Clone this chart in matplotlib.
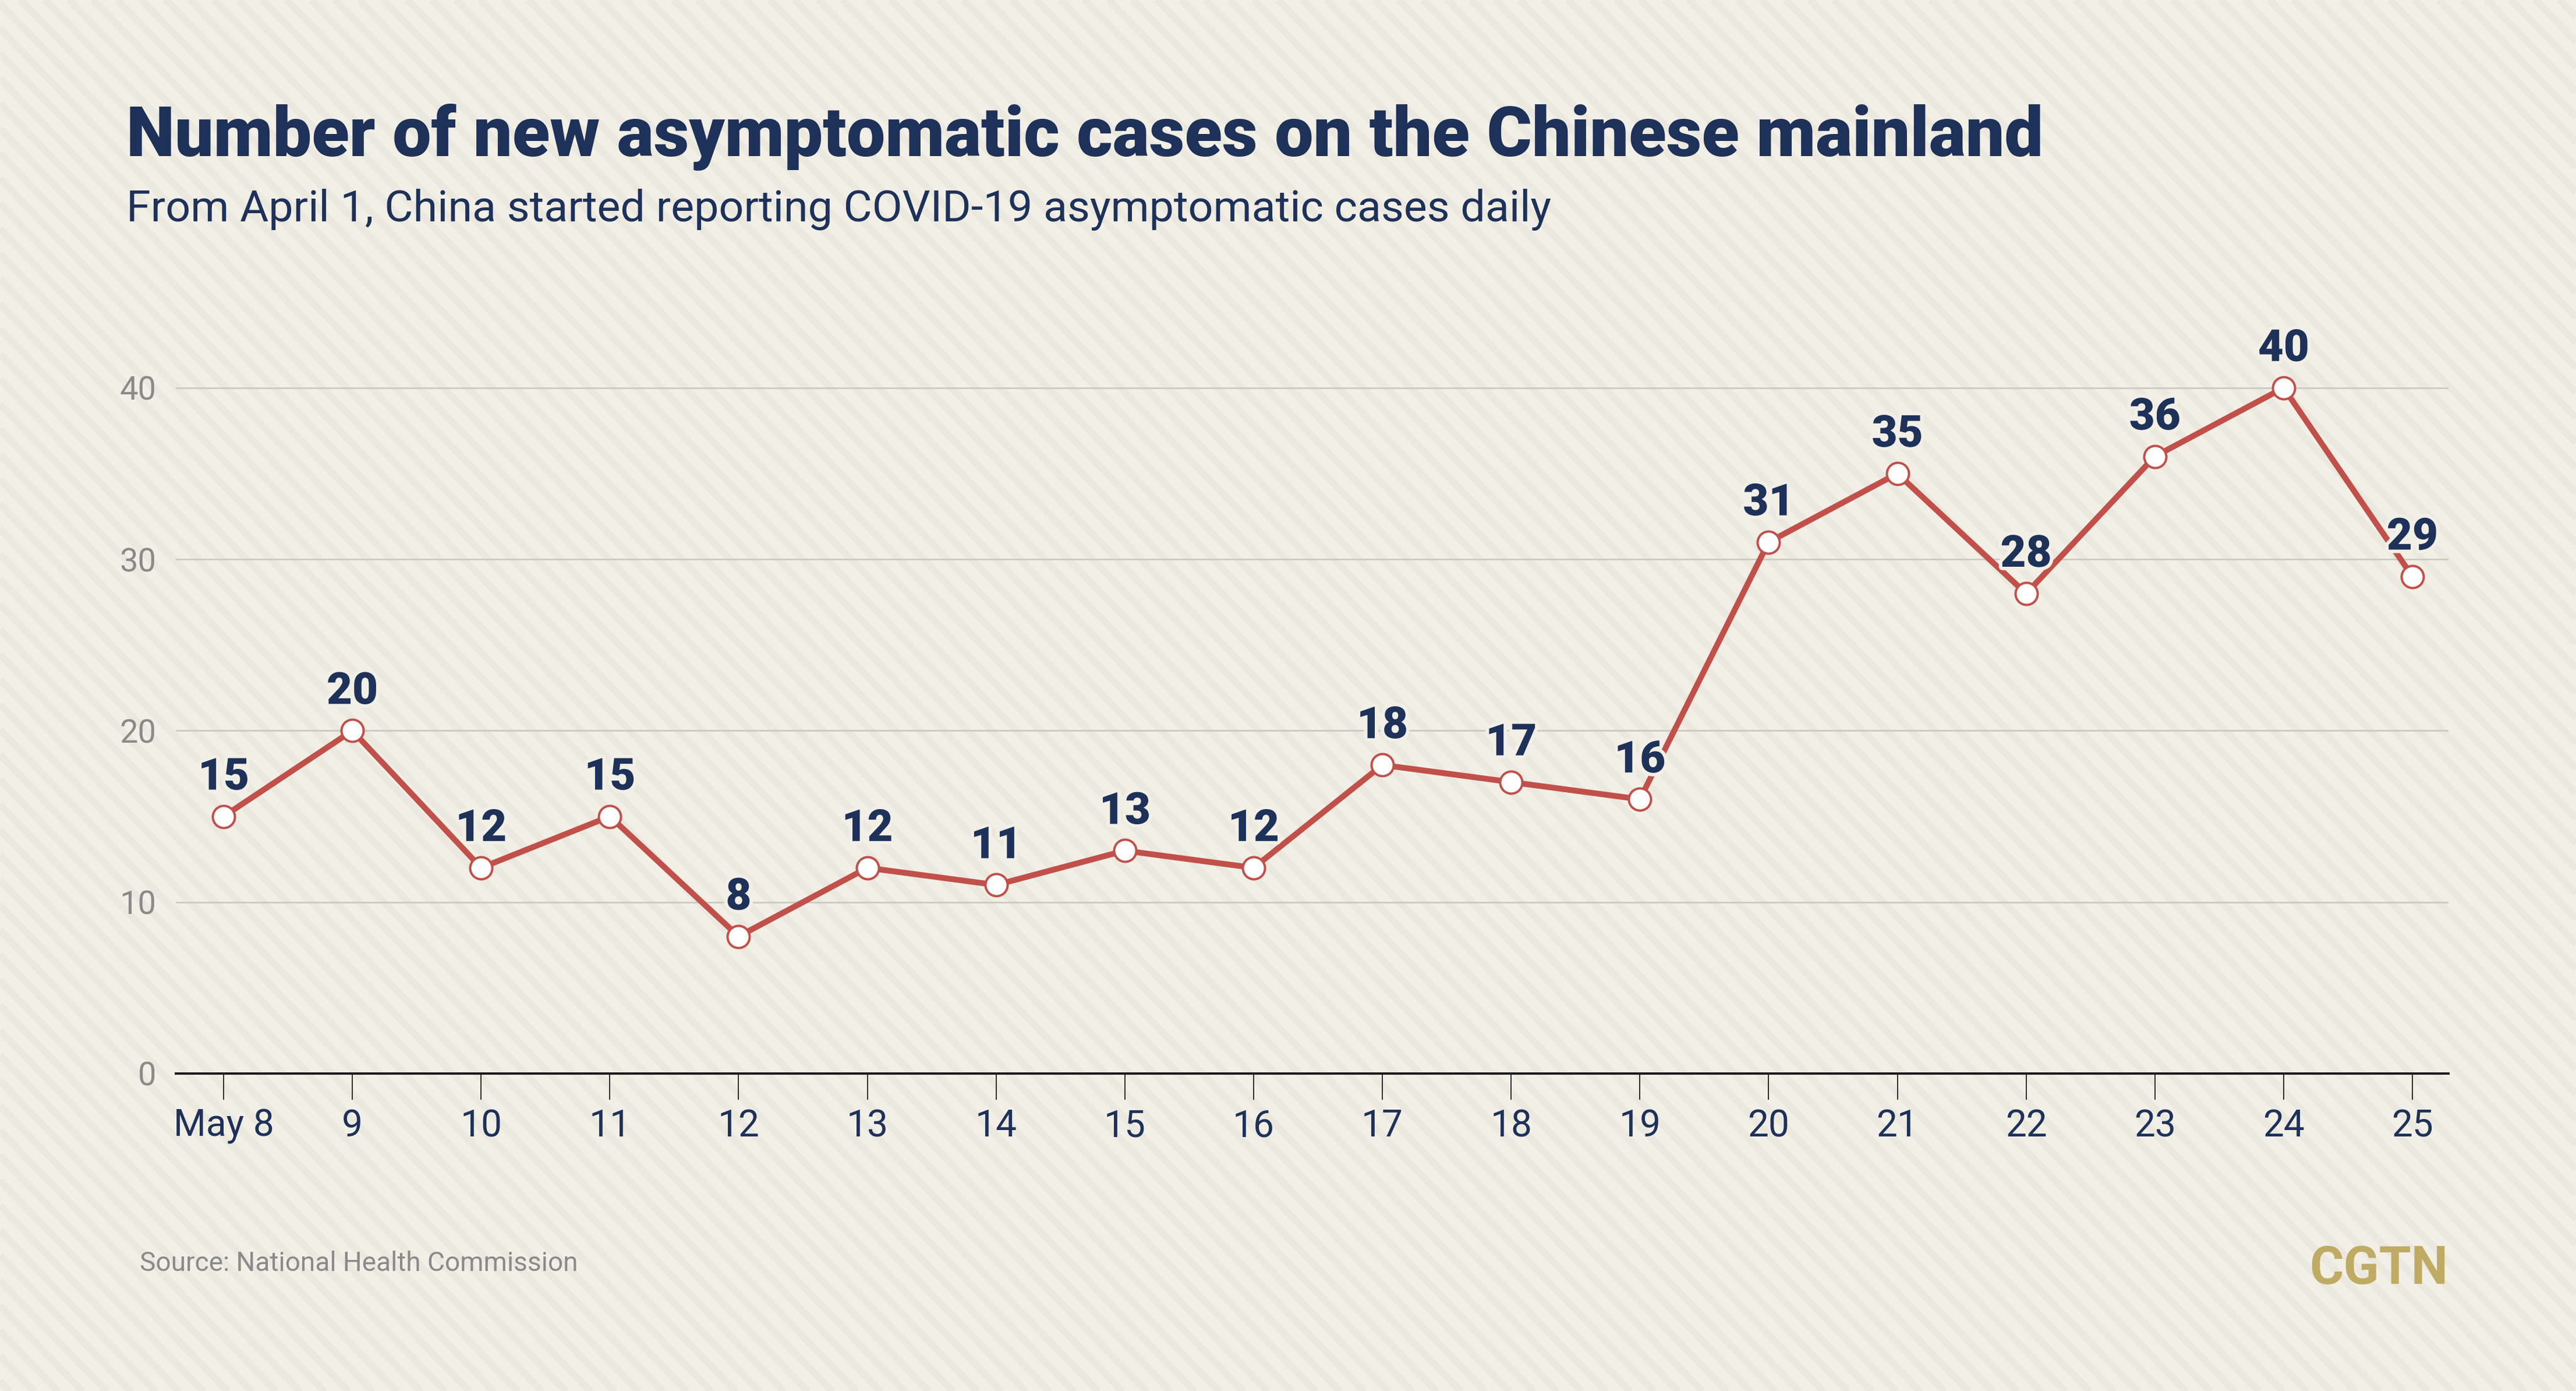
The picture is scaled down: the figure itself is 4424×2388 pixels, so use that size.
import matplotlib
matplotlib.use('Agg')
import matplotlib.pyplot as plt
from matplotlib.collections import LineCollection
import matplotlib.patheffects as pe
import numpy as np

# ---------------- data ----------------
dates = ['May 8', '9', '10', '11', '12', '13', '14', '15', '16',
         '17', '18', '19', '20', '21', '22', '23', '24', '25']
cases = [15, 20, 12, 15, 8, 12, 11, 13, 12, 18, 17, 16, 31, 35, 28, 36, 40, 29]
y_ticks = [0, 10, 20, 30, 40]

title = 'Number of new asymptomatic cases on the Chinese mainland'
subtitle = 'From April 1, China started reporting COVID-19 asymptomatic cases daily'
source = 'Source: National Health Commission'
brand = 'CGTN'

# ---------------- style ----------------
W, H, DPI = 4424, 2388, 100
BG = '#f2efe7'
STRIPE = '#ebe8df'
NAVY = '#1d3159'
RED = '#c1504a'
GRAY = '#8a8a8a'
GRID = '#c9c6be'
GOLD = '#bfab63'


def px(v):
    return v * 72.0 / DPI


plt.rcParams['font.family'] = ['Roboto', 'DejaVu Sans']

fig = plt.figure(figsize=(W / DPI, H / DPI), dpi=DPI)
fig.patch.set_facecolor(BG)

# background diagonal stripes
bg = fig.add_axes([0, 0, 1, 1], zorder=-10)
bg.set_xlim(0, W)
bg.set_ylim(H, 0)
bg.axis('off')
slope = np.tan(np.radians(46))
cs = np.arange(-W * slope - 100, H + 100, 43)
segs = [[(0, c), (W, c + W * slope)] for c in cs]
bg.add_collection(LineCollection(segs, colors=STRIPE, linewidths=px(12)))

# main axes
x0, x1 = 302, 4205
y0 = 1843
ppu = 29.43
ymax = 45
ax = fig.add_axes([x0 / W, 1 - y0 / H, (x1 - x0) / W, ymax * ppu / H])
ax.patch.set_alpha(0)

x = np.arange(len(cases))
ax.set_xlim(-(384 - x0) / 221.1, len(cases) - 1 + (x1 - 4143) / 221.1)
ax.set_ylim(0, ymax)

ax.plot(x, cases, color=RED, lw=px(10), marker='o', ms=px(38),
        mfc='white', mec=RED, mew=px(4), zorder=3, clip_on=False)

for xi, yi in zip(x, cases):
    ax.annotate(str(yi), (xi, yi), xytext=(0, px(46)), textcoords='offset points',
                ha='center', va='baseline', fontsize=px(76), fontweight='black',
                color=NAVY, zorder=5,
                path_effects=[pe.withStroke(linewidth=px(12), foreground=BG)])

ax.set_yticks(y_ticks)
ax.set_yticklabels([str(v) for v in y_ticks])
ax.yaxis.grid(True, color=GRID, lw=px(2.5))
ax.set_axisbelow(True)

ax.set_xticks(x)
ax.set_xticklabels(dates)

for s in ['top', 'right', 'left']:
    ax.spines[s].set_visible(False)
ax.spines['bottom'].set_color('#1a1a1a')
ax.spines['bottom'].set_linewidth(px(4))
ax.spines['bottom'].set_zorder(2.5)

ax.tick_params(axis='x', length=px(45), width=px(1.8), color='#1a1a1a',
               pad=px(14), labelsize=px(64), labelcolor=NAVY)
ax.tick_params(axis='y', length=0, pad=px(34), labelsize=px(56), labelcolor=GRAY)

# texts
t_title = fig.text(217 / W, 1 - 268 / H, title, fontsize=px(124), fontweight='black',
                   color=NAVY, ha='left', va='baseline')
t_sub = fig.text(217 / W, 1 - 380 / H, subtitle, fontsize=px(80),
                 color=NAVY, ha='left', va='baseline')
fig.text(240 / W, 1 - 2182 / H, source, fontsize=px(46), color=GRAY,
         ha='left', va='baseline')
t_brand = fig.text(4204 / W, 1 - 2204 / H, brand, fontsize=px(88), fontweight='bold',
                   color=GOLD, ha='right', va='baseline')

# fit widths of title / subtitle to reference
fig.canvas.draw()
r = fig.canvas.get_renderer()
for t, target in [(t_title, 3292), (t_sub, 2446), (t_brand, 238)]:
    w = t.get_window_extent(r).width
    t.set_fontsize(t.get_fontsize() * target / w)

fig.savefig('out.png', dpi=DPI, facecolor=BG)
